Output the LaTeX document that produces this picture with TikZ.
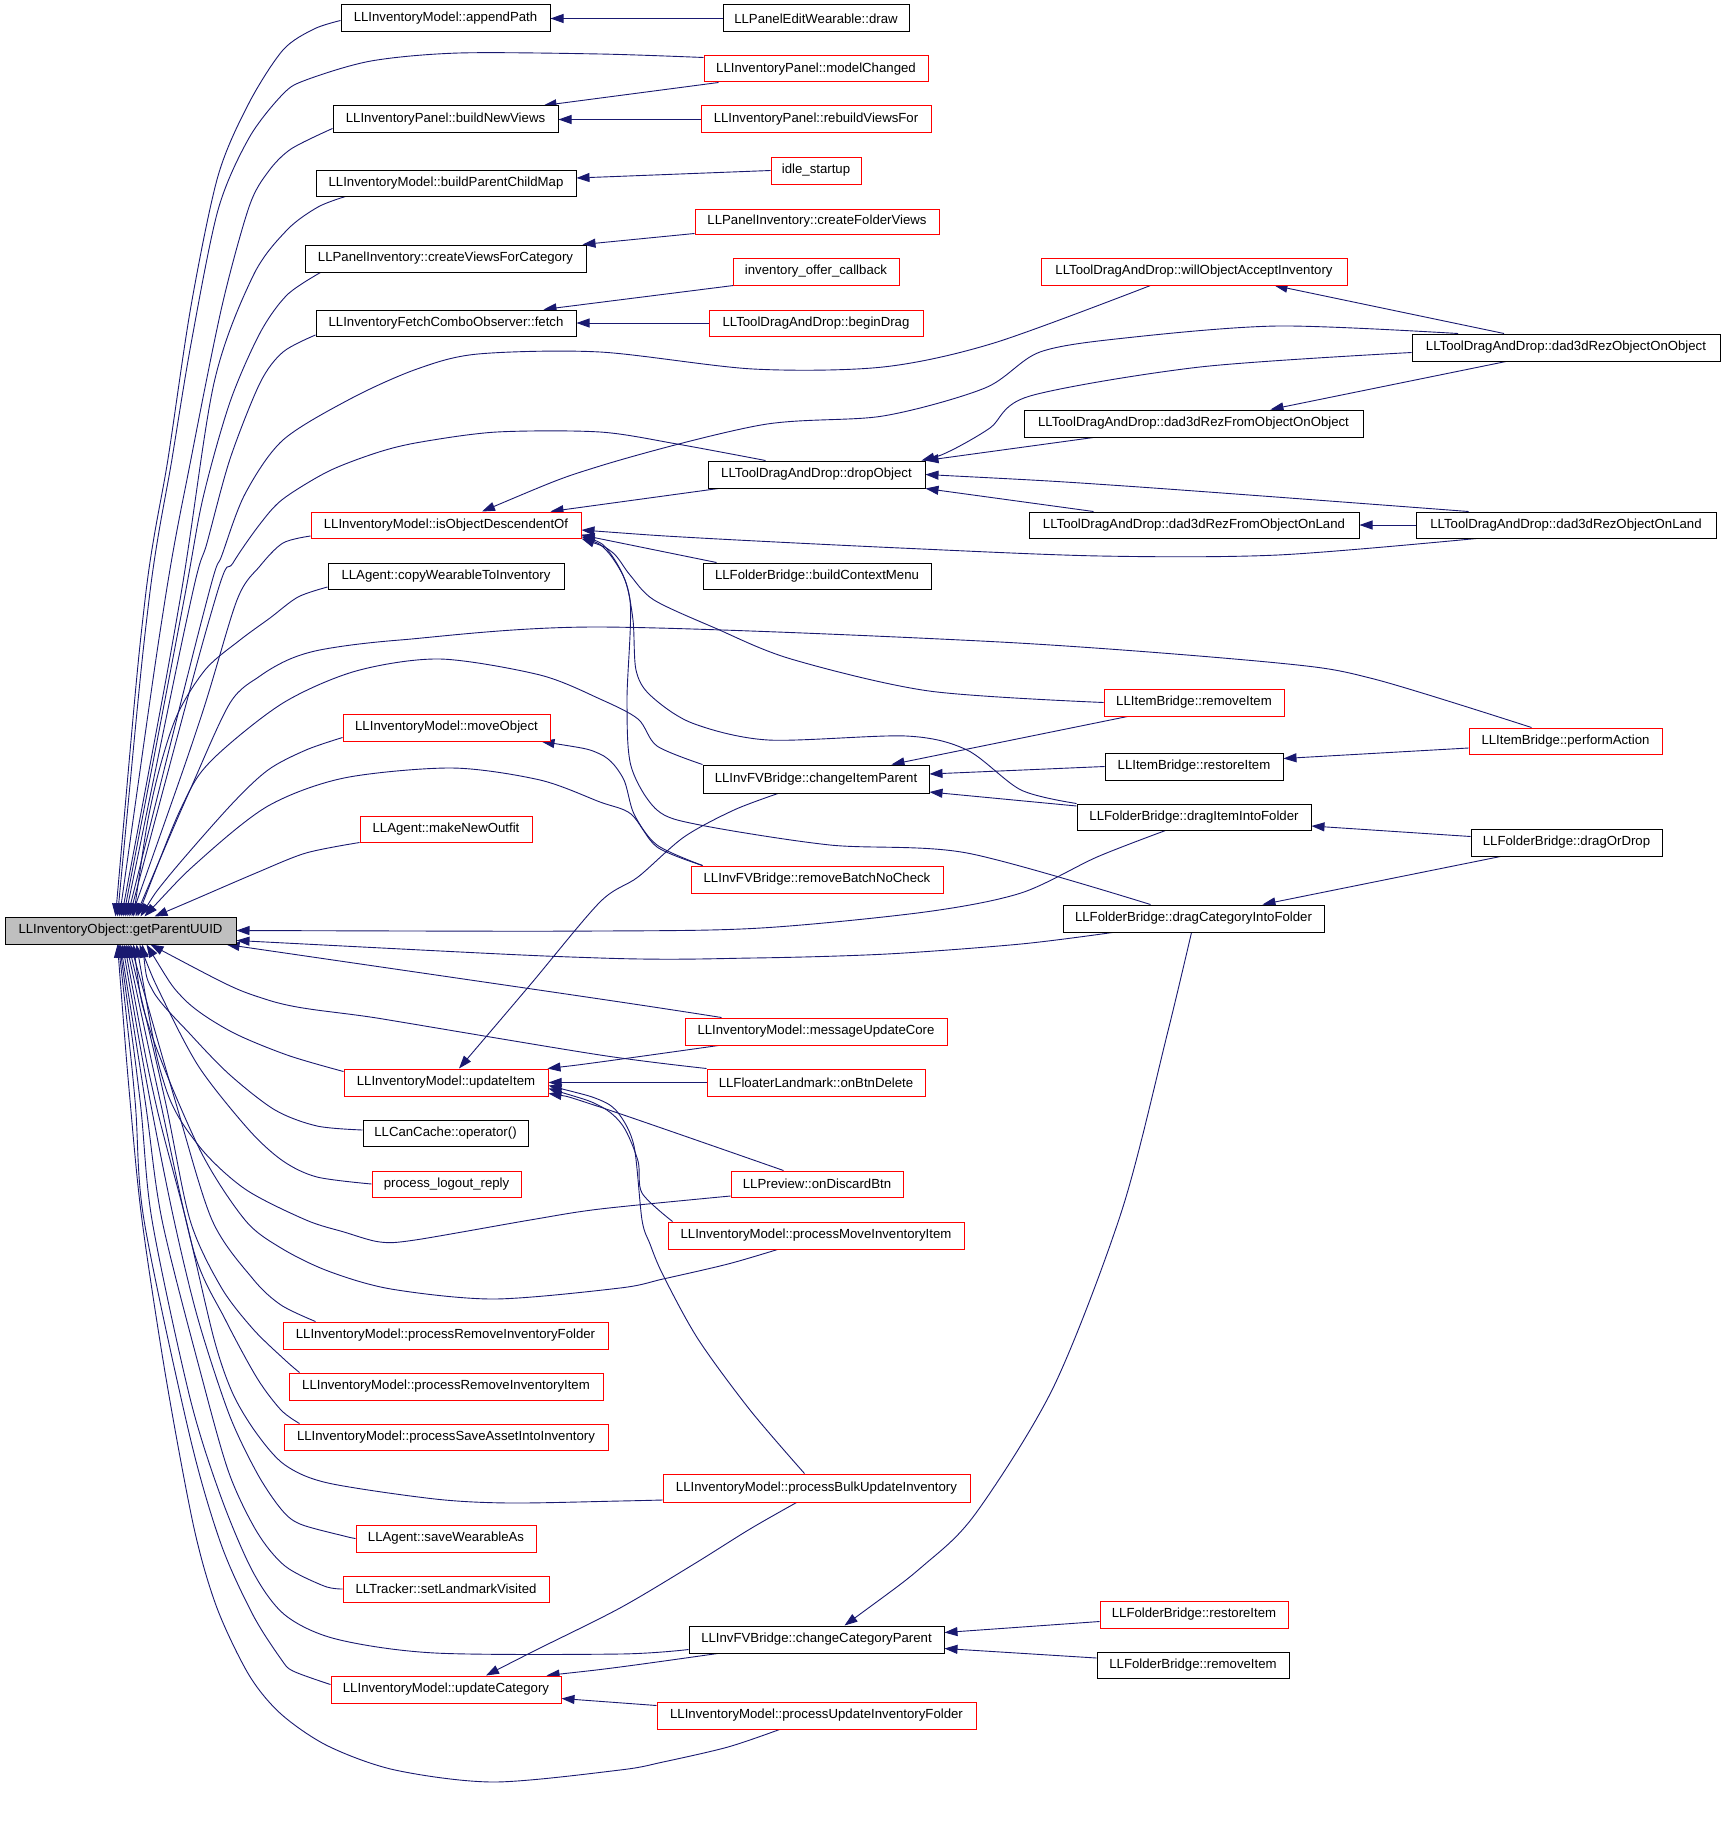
\documentclass[tikz,border=0pt]{standalone}
\usepackage{fontspec}
\setmainfont{Liberation Sans}
\usetikzlibrary{arrows.meta}
\definecolor{navy}{RGB}{25,25,112}
\definecolor{boxgray}{RGB}{191,191,191}
\newcommand\nodefont{\fontsize{13.2}{15}\selectfont}
\newcommand\nd[7]{\node[box,#6,minimum width={(#4-#2)*1pt},minimum height={(#5-#3)*1pt}] (#1) at ({(#2+#4)/2},{(#3+#5)/2}) {#7};}
\newcommand\ed[1]{\draw[e] plot[smooth,tension=0.5] coordinates {#1};}
\pgfdeclarelayer{back}
\pgfdeclarelayer{bg}
\pgfsetlayers{back,bg,main}
\begin{document}
\begin{tikzpicture}[x=1pt,y=-1pt,
 box/.style={draw=black,line width=1pt,inner sep=0pt,fill=white,font=\nodefont},
 rbox/.style={draw=red},
 gbox/.style={fill=boxgray},
 e/.style={draw=navy,line width=0.9pt,{Triangle[length=13pt,width=9pt]}-}]
\begin{pgfonlayer}{back}
\fill[white] (0,0) rectangle (1725,1841);
\end{pgfonlayer}
\useasboundingbox (0,0) rectangle (1725,1841);
% left column
\nd{gp}{5}{917}{236}{944}{gbox}{LLInventoryObject::getParentUUID}
\nd{ap}{341}{5}{550}{32}{}{LLInventoryModel::appendPath}
\nd{bnv}{333}{106}{558}{133}{}{LLInventoryPanel::buildNewViews}
\nd{bpcm}{316}{170}{576}{196}{}{LLInventoryModel::buildParentChildMap}
\nd{cvfc}{305}{245}{586}{272}{}{LLPanelInventory::createViewsForCategory}
\nd{fetch}{316}{310}{576}{336}{}{LLInventoryFetchComboObserver::fetch}
\nd{iod}{311}{512}{581}{538}{rbox}{LLInventoryModel::isObjectDescendentOf}
\nd{cwti}{328}{563}{564}{589}{}{LLAgent::copyWearableToInventory}
\nd{mo}{343}{714}{550}{741}{rbox}{LLInventoryModel::moveObject}
\nd{mno}{360}{816}{532}{842}{rbox}{LLAgent::makeNewOutfit}
\nd{ui}{344}{1069}{548}{1096}{rbox}{LLInventoryModel::updateItem}
\nd{cc}{363}{1120}{528}{1146}{}{LLCanCache::operator()}
\nd{plr}{372}{1171}{521}{1197}{rbox}{process\_logout\_reply}
\nd{prif}{283}{1322}{608}{1349}{rbox}{LLInventoryModel::processRemoveInventoryFolder}
\nd{prii}{289}{1373}{603}{1400}{rbox}{LLInventoryModel::processRemoveInventoryItem}
\nd{psai}{284}{1424}{608}{1450}{rbox}{LLInventoryModel::processSaveAssetIntoInventory}
\nd{swa}{356}{1525}{536}{1552}{rbox}{LLAgent::saveWearableAs}
\nd{slv}{343}{1576}{549}{1602}{rbox}{LLTracker::setLandmarkVisited}
\nd{uc}{331}{1676}{561}{1703}{rbox}{LLInventoryModel::updateCategory}
% middle column
\nd{pewd}{723}{5}{909}{32}{}{LLPanelEditWearable::draw}
\nd{mc}{704}{56}{928}{82}{rbox}{LLInventoryPanel::modelChanged}
\nd{rvf}{701}{106}{931}{133}{rbox}{LLInventoryPanel::rebuildViewsFor}
\nd{is}{771}{157}{861}{184}{rbox}{idle\_startup}
\nd{cfv}{695}{209}{939}{234}{rbox}{LLPanelInventory::createFolderViews}
\nd{ioc}{733}{258}{899}{285}{rbox}{inventory\_offer\_callback}
\nd{bd}{709}{310}{923}{336}{rbox}{LLToolDragAndDrop::beginDrag}
\nd{dob}{708}{461}{925}{488}{}{LLToolDragAndDrop::dropObject}
\nd{bcm}{703}{563}{931}{589}{}{LLFolderBridge::buildContextMenu}
\nd{cip}{703}{765}{929}{793}{}{LLInvFVBridge::changeItemParent}
\nd{rbnc}{691}{866}{943}{893}{rbox}{LLInvFVBridge::removeBatchNoCheck}
\nd{muc}{685}{1018}{947}{1045}{rbox}{LLInventoryModel::messageUpdateCore}
\nd{obd}{707}{1069}{925}{1096}{rbox}{LLFloaterLandmark::onBtnDelete}
\nd{odb}{731}{1171}{903}{1197}{rbox}{LLPreview::onDiscardBtn}
\nd{pmii}{668}{1222}{964}{1249}{rbox}{LLInventoryModel::processMoveInventoryItem}
\nd{pbui}{663}{1474}{970}{1502}{rbox}{LLInventoryModel::processBulkUpdateInventory}
\nd{ccp}{689}{1626}{944}{1653}{}{LLInvFVBridge::changeCategoryParent}
\nd{puif}{657}{1702}{976}{1729}{rbox}{LLInventoryModel::processUpdateInventoryFolder}
% third column
\nd{woai}{1041}{258}{1347}{285}{rbox}{LLToolDragAndDrop::willObjectAcceptInventory}
\nd{drfoo}{1024}{410}{1363}{437}{}{LLToolDragAndDrop::dad3dRezFromObjectOnObject}
\nd{drfol}{1029}{512}{1359}{538}{}{LLToolDragAndDrop::dad3dRezFromObjectOnLand}
\nd{ibri}{1104}{689}{1284}{716}{rbox}{LLItemBridge::removeItem}
\nd{ibre}{1105}{753}{1283}{780}{}{LLItemBridge::restoreItem}
\nd{diif}{1077}{804}{1311}{830}{}{LLFolderBridge::dragItemIntoFolder}
\nd{dcif}{1063}{905}{1324}{932}{}{LLFolderBridge::dragCategoryIntoFolder}
\nd{fbre}{1100}{1601}{1288}{1628}{rbox}{LLFolderBridge::restoreItem}
\nd{fbri}{1097}{1652}{1289}{1678}{}{LLFolderBridge::removeItem}
% fourth column
\nd{droo}{1412}{334}{1720}{361}{}{LLToolDragAndDrop::dad3dRezObjectOnObject}
\nd{drol}{1416}{512}{1716}{538}{}{LLToolDragAndDrop::dad3dRezObjectOnLand}
\nd{pa}{1469}{728}{1662}{754}{rbox}{LLItemBridge::performAction}
\nd{dod}{1471}{829}{1662}{856}{}{LLFolderBridge::dragOrDrop}

\begin{pgfonlayer}{bg}
% simple edges
\draw[e] (ap.east) -- (pewd.west);
\draw[e] ([xshift=-15pt]bnv.north east) -- ([xshift=15pt]mc.south west);
\draw[e] (bnv.east) -- (rvf.west);
\draw[e] ([yshift=5pt]bpcm.east) -- (is.west);
\draw[e] ([xshift=-4pt]cvfc.north east) -- ([yshift=1pt]cfv.south west);
\draw[e] ([xshift=-33pt]fetch.north east) -- ([xshift=1pt]ioc.south west);
\draw[e] (fetch.east) -- (bd.west);
\draw[e] ([xshift=-73pt]woai.south east) -- ([xshift=-62pt]droo.north);
\draw[e] ([xshift=-93pt]drfoo.north east) -- ([xshift=-60pt]droo.south);
\draw[e] (dob.north east) -- ([xshift=70pt]drfoo.south west);
\ed{([xshift=-4pt]dob.north east) (950,451) (990,428) (1030,396) (1200,367) ([yshift=-5pt]droo.west)}
\ed{(dob.east) (1125,486) ([xshift=53pt]drol.north west)}
\draw[e] (dob.south east) -- ([xshift=65pt]drfol.north west);
\draw[e] (drfol.east) -- (drol.west);
\draw[e] ([xshift=-31pt]iod.north east) -- ([xshift=11pt]dob.south west);
\ed{([xshift=36pt]iod.north) (600,466) (761,425) (883,416) (985,388) (1040,352) (1125,338) (1278,326) ([xshift=-108pt]droo.north)}
\ed{([yshift=-5pt]iod.east) (700,538) (900,548) (1100,556) (1278,555) ([xshift=61pt]drol.south west)}
\draw[e] ([yshift=-10pt]iod.east) -- ([xshift=14pt]bcm.north west);
\ed{(iod.south east) (612,552) (630,575) (654,600) (715,628) (791,659) (929,691) (ibri.west)}
\ed{([yshift=2pt]iod.south east) (606,550) (625,580) (633,620) (636,670) (650,695) (692,723) (768,740) (906,736) (967,750) (1021,790) (diif.north west)}
\ed{([yshift=4pt]iod.south east) (610,553) (630,600) (627,700) (631,766) (657,810) (700,825) (830,845) (967,853) ([xshift=88pt]dcif.north west)}
\draw[e] ([xshift=-38pt]cip.north east) -- ([xshift=24pt]ibri.south west);
\draw[e] ([yshift=5pt]cip.east) -- (ibre.west);
\draw[e] ([yshift=-13pt]cip.east) -- ([yshift=11pt]diif.west);
\draw[e] ([yshift=8pt]ibre.east) -- ([yshift=-7pt]pa.west);
\draw[e] ([yshift=-9pt]diif.east) -- ([yshift=6pt]dod.west);
\draw[e] ([xshift=69pt]dcif.north) -- ([xshift=-66pt]dod.south);
\ed{([xshift=-9pt]mo.south east) (600,754) (623,778) (634,814) (657,845) ([xshift=12pt]rbnc.north west)}
\ed{([xshift=13pt]ui.north) (530,985) (600,902) (638,877) (684,837) (734,810) ([xshift=-38pt]cip.south)}
\ed{([xshift=-1pt]ui.north east) (600,1062) ([xshift=34pt]muc.south west)}
\draw[e] (ui.east) -- (obd.west);
\ed{([yshift=-11pt]ui.east) (600,1107) ([xshift=53pt]odb.north west)}
\ed{([yshift=-6pt]ui.east) (600,1106) (623,1126) (638,1161) (642,1193) ([xshift=5pt]pmii.north west)}
\ed{([yshift=-3pt]ui.east) (600,1100) (619,1114) (634,1146) (642,1220) (650,1244) (663,1275) (698,1339) (750,1410) ([xshift=-12pt]pbui.north)}
\ed{([xshift=40pt]uc.north) (534,1651) (620,1608) (694,1564) (750,1529) ([xshift=-20pt]pbui.south)}
\ed{([xshift=-15pt]uc.north east) (620,1667) ([xshift=29pt]ccp.south west)}
\draw[e] ([yshift=-9pt]uc.east) -- ([yshift=10pt]puif.west);
\ed{([xshift=28pt]ccp.north) (924,1565) (976,1513) (1054,1386) (1122,1210) (1167,1035) ([xshift=-2pt]dcif.south)}
\draw[e] ([yshift=7pt]ccp.east) -- ([yshift=-7pt]fbre.west);
\draw[e] ([yshift=-9pt]ccp.east) -- ([yshift=7pt]fbri.west);
% edges into getParentUUID from above
\ed{([xshift=-5pt]gp.north) (145,600) (168,459) (191,306) (218,176) (249,103) (283,50) (314,29) ([yshift=-2pt]ap.west)}
\ed{([xshift=-3pt]gp.north) (149,600) (172,459) (191,344) (218,210) (249,138) (283,94) (306,80) (371,61) (459,53) (600,54) ([yshift=-2pt]mc.north west)}
\ed{([xshift=-1pt]gp.north) (165,600) (191,459) (222,306) (249,207) (268,172) (291,149) ([yshift=-9pt]bnv.west)}
\ed{([xshift=1pt]gp.north) (180,600) (214,383) (253,276) (287,230) (318,207) ([xshift=30pt]bpcm.south west)}
\ed{([xshift=3pt]gp.north) (184,600) (203,498) (230,402) (260,333) (287,295) ([xshift=16pt]cvfc.south west)}
\ed{([xshift=5pt]gp.north) (191,600) (207,543) (230,459) (260,383) (283,352) ([yshift=-12pt]fetch.west)}
\ed{([xshift=7pt]gp.north) (207,600) (222,555) (245,494) (283,440) (352,398) (417,369) (478,354) (600,352) (753,369) (883,367) (994,343) ([xshift=110pt]woai.south west)}
\ed{([xshift=9pt]gp.north) (215,600) (233,563) (260,524) (283,499) (329,471) (379,452) (421,442) (497,432) (600,432) (677,444) ([xshift=58pt]dob.north west)}
\ed{([xshift=11pt]gp.north) (200,720) (237,600) (260,566) (283,543) ([yshift=-11pt]iod.west)}
\ed{([xshift=13pt]gp.north) (152,800) (175,720) (205,670) (240,640) (270,618) (298,597) ([yshift=-11pt]cwti.west)}
\ed{([xshift=15pt]gp.north) (190,790) (230,703) (260,676) (290,659) (325,649) (400,640) (600,627) (1000,642) (1278,663) (1374,679) ([xshift=-34pt]pa.north)}
\ed{([xshift=17pt]gp.north) (185,800) (214,758) (283,703) (356,671) (440,659) (540,675) (600,699) (638,719) (657,746) (cip.north west)}
\ed{([xshift=20pt]gp.north) (168,877) (230,806) (268,770) (306,750) ([yshift=-10pt]mo.west)}
\ed{([xshift=24pt]gp.north) (200,860) (268,806) (344,778) (452,768) (540,780) (600,802) (631,814) (657,847) ([xshift=12pt]rbnc.north west)}
\ed{([xshift=34pt]gp.north) (191,901) (256,873) (306,853) (mno.south west)}
% edges into getParentUUID from the right
\ed{(gp.east) (600,931) (761,928) (925,912) (1021,893) (1097,857) ([xshift=89pt]diif.south west)}
\ed{([yshift=-10pt]gp.east) (600,958) (753,958) (887,954) (1021,944) ([xshift=50pt]dcif.south west)}
\ed{([xshift=-10pt]gp.south east) (600,999) ([xshift=37pt]muc.north west)}
% edges into getParentUUID from below
\ed{([xshift=30pt]gp.south) (268,1000) (383,1019) (600,1055) (obd.north west)}
\ed{([xshift=26pt]gp.south) (184,999) (230,1031) (287,1055) ([yshift=11pt]ui.west)}
\ed{([xshift=22pt]gp.south) (153,991) (191,1035) (230,1075) (275,1110) (317,1126) ([yshift=3pt]cc.west)}
\ed{([xshift=19pt]gp.south) (161,995) (199,1067) (249,1130) (283,1161) (317,1177) (plr.west)}
\ed{([xshift=16pt]gp.south) (165,1086) (199,1146) (245,1189) (306,1220) (344,1232) (380,1242) (415,1240) (530,1220) (600,1209) ([yshift=-12pt]odb.west)}
\ed{([xshift=13pt]gp.south) (150,1030) (200,1150) (245,1220) (281,1248) (328,1271) (391,1289) (494,1299) (620,1288) (663,1279) (728,1264) ([xshift=110pt]pmii.south west)}
\ed{([xshift=10pt]gp.south) (175,1100) (212,1220) (253,1279) (281,1305) ([xshift=33pt]prif.north west)}
\ed{([xshift=8pt]gp.south) (165,1100) (190,1220) (221,1287) (253,1329) (285,1360) ([xshift=11pt]prii.north west)}
\ed{([xshift=6pt]gp.south) (160,1100) (194,1252) (225,1319) (257,1378) (281,1410) ([xshift=16pt]psai.north west)}
\ed{([xshift=4pt]gp.south) (155,1100) (186,1220) (214,1339) (233,1394) (257,1434) (285,1465) (328,1483) (435,1499) (510,1503) (620,1501) ([yshift=-12pt]pbui.west)}
\ed{([xshift=2pt]gp.south) (150,1100) (174,1220) (198,1319) (229,1414) (257,1473) (281,1509) (300,1524) (344,1536) (swa.west)}
\ed{(gp.south) (145,1100) (162,1220) (202,1378) (229,1473) (257,1532) (285,1566) (324,1586) (slv.west)}
\ed{([xshift=-1pt]gp.south) (140,1100) (152,1220) (190,1398) (221,1497) (253,1572) (285,1615) (336,1639) (435,1653) (620,1654) ([yshift=-10pt]ccp.west)}
\ed{([xshift=-2pt]gp.south) (135,1100) (144,1220) (190,1437) (221,1544) (253,1615) (281,1659) (293,1671) ([yshift=5pt]uc.west)}
\ed{([xshift=-3pt]gp.south) (130,1100) (142,1220) (166,1378) (194,1528) (217,1608) (249,1675) (281,1714) (328,1746) (395,1770) (494,1782) (620,1770) (663,1762) (728,1747) ([xshift=123pt]puif.south west)}
\end{pgfonlayer}
\end{tikzpicture}
\end{document}
